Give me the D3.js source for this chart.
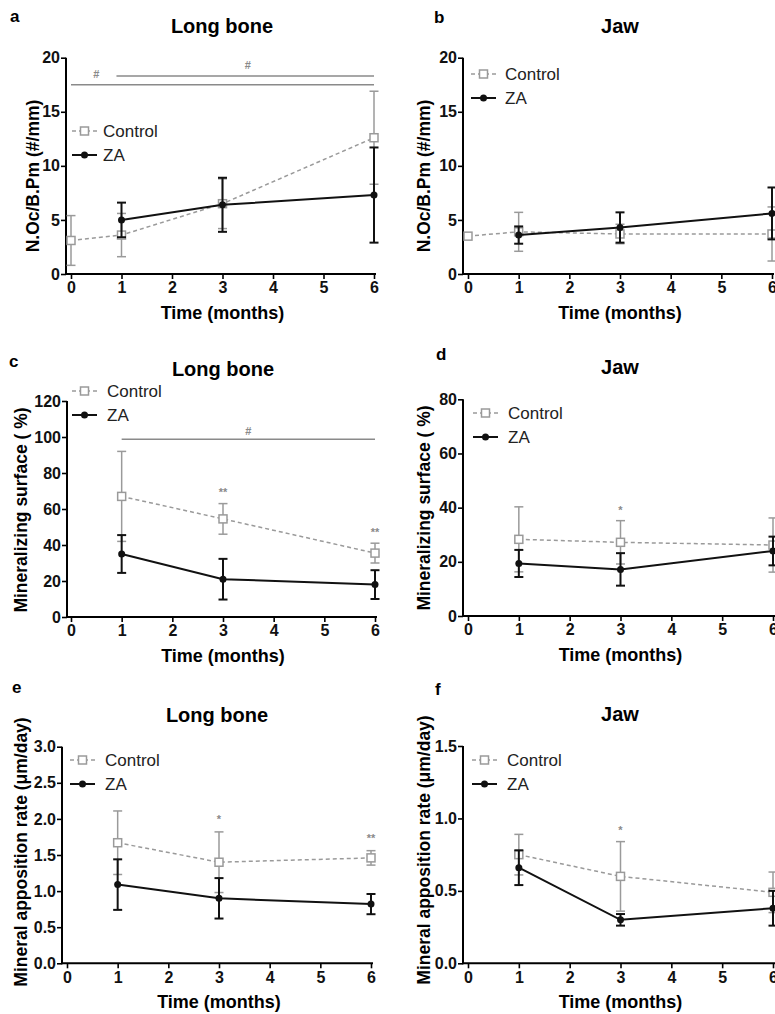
<!DOCTYPE html>
<html>
<head>
<meta charset="utf-8">
<script src="https://cdn.jsdelivr.net/npm/d3@7"></script>
<style>
  body { margin: 0; background: #fff; }
  svg { font-family: "Liberation Sans", Arial, sans-serif; }
</style>
</head>
<body>
<svg id="fig" width="775" height="1014"></svg>
<script>
// time points (months)
var xTicks = [0, 1, 2, 3, 4, 5, 6];
var ocMonths = [0, 1, 3, 6];
var zaOcMonths = [1, 3, 6];
var msMonths = [1, 3, 6];

// N.Oc/B.Pm (#/mm)
var ocLongCtrl = [3.1, 3.6, 6.5, 12.6];
var ocLongCtrlErr = [2.3, 2.0, 2.3, 4.3];
var ocLongZA = [5.0, 6.4, 7.3];
var ocLongZAErr = [1.6, 2.5, 4.4];
var ocJawCtrl = [3.5, 3.9, 3.7, 3.7];
var ocJawCtrlErr = [0, 1.8, 0.9, 2.5];
var ocJawZA = [3.6, 4.3, 5.6];
var ocJawZAErr = [0.8, 1.4, 2.4];

// Mineralizing surface (%)
var msLongCtrl = [67, 54.5, 35.5];
var msLongCtrlErr = [25, 8.5, 5.5];
var msLongZA = [35, 21, 18];
var msLongZAErr = [10.5, 11.3, 8];
var msJawCtrl = [28.3, 27.2, 26.2];
var msJawCtrlErr = [12, 8, 10];
var msJawZA = [19.4, 17.2, 24.0];
var msJawZAErr = [5, 6, 5.3];

// Mineral apposition rate (um/day)
var marLongCtrl = [1.67, 1.40, 1.46];
var marLongCtrlErr = [0.44, 0.42, 0.1];
var marLongZA = [1.09, 0.90, 0.82];
var marLongZAErr = [0.35, 0.28, 0.14];
var marJawCtrl = [0.75, 0.60, 0.49];
var marJawCtrlErr = [0.14, 0.24, 0.14];
var marJawZA = [0.66, 0.30, 0.38];
var marJawZAErr = [0.12, 0.04, 0.12];

// y ticks
var ocTicks = [0, 5, 10, 15, 20];
var msLongTicks = [0, 20, 40, 60, 80, 100, 120];
var msJawTicks = [0, 20, 40, 60, 80];
var marLongTicks = [0, 0.5, 1.0, 1.5, 2.0, 2.5, 3.0];
var marJawTicks = [0, 0.5, 1.0, 1.5];

function zip(xs, ys, es) {
    return xs.map(function (x, i) { return {x: x, y: ys[i], e: es[i]}; });
}

var ctrlColor = "#9a9a9a";
var zaColor = "#111";
var sigColor = "#8a8a8a";

var panels = [
    {letter: "a", lx1: 10, lb: 22, title: "Long bone", tx: 222, ylab: "N.Oc/B.Pm  (#/mm)", ticks: ocTicks, fmt: d3.format("d"),
     ax: 66, x0: 71, x6: 374, yTop: 57.7, yBot: 274, ytx: 33, yty: 176,
     lx: 103, ly: 131, lx0: 72,
     ctrl: zip(ocMonths, ocLongCtrl, ocLongCtrlErr), za: zip(zaOcMonths, ocLongZA, ocLongZAErr),
     lines: [{from: 0, to: 6, y: 17.5}, {from: 0.9, to: 6, y: 18.3}],
     marks: [{x: 0.5, y: 18.1, t: "#"}, {x: 3.5, y: 19.0, t: "#"}]},
    {letter: "b", lx1: 434, lb: 23, title: "Jaw", tx: 620, ylab: "N.Oc/B.Pm  (#/mm)", ticks: ocTicks, fmt: d3.format("d"),
     ax: 463, x0: 468, x6: 772, yTop: 57.7, yBot: 274, ytx: 424, yty: 176,
     lx: 505, ly: 74, lx0: 471,
     ctrl: zip(ocMonths, ocJawCtrl, ocJawCtrlErr), za: zip(zaOcMonths, ocJawZA, ocJawZAErr),
     lines: [], marks: []},
    {letter: "c", lx1: 9, lb: 367, title: "Long bone", tx: 223, ylab: "Mineralizing surface ( %)", ticks: msLongTicks, fmt: d3.format("d"),
     ax: 67, x0: 71, x6: 375, yTop: 401, yBot: 617, ytx: 21, yty: 510,
     lx: 107, ly: 391, lx0: 72,
     ctrl: zip(msMonths, msLongCtrl, msLongCtrlErr), za: zip(msMonths, msLongZA, msLongZAErr),
     lines: [{from: 1, to: 6, y: 98.7}],
     marks: [{x: 3.5, y: 101, t: "#"}, {x: 3, y: 67, t: "**"}, {x: 6, y: 45, t: "**"}]},
    {letter: "d", lx1: 436, lb: 360, title: "Jaw", tx: 620, ylab: "Mineralizing surface ( %)", ticks: msJawTicks, fmt: d3.format("d"),
     ax: 463, x0: 468, x6: 773, yTop: 399.3, yBot: 616, ytx: 424, yty: 508,
     lx: 508, ly: 413, lx0: 473,
     ctrl: zip(msMonths, msJawCtrl, msJawCtrlErr), za: zip(msMonths, msJawZA, msJawZAErr),
     lines: [], marks: [{x: 3, y: 37.5, t: "*"}]},
    {letter: "e", lx1: 12, lb: 693, title: "Long bone", tx: 217, ylab: "Mineral apposition rate  (\u03bcm/day)", ticks: marLongTicks, fmt: d3.format(".1f"),
     ax: 62, x0: 67, x6: 371, yTop: 746.7, yBot: 963.3, ytx: 21, yty: 852,
     lx: 105, ly: 760, lx0: 70,
     ctrl: zip(msMonths, marLongCtrl, marLongCtrlErr), za: zip(msMonths, marLongZA, marLongZAErr),
     lines: [], marks: [{x: 3, y: 1.95, t: "*"}, {x: 6, y: 1.68, t: "**"}]},
    {letter: "f", lx1: 435, lb: 695, title: "Jaw", tx: 620, ylab: "Mineral apposition rate  (\u03bcm/day)", ticks: marJawTicks, fmt: d3.format(".1f"),
     ax: 463, x0: 468, x6: 773, yTop: 746, yBot: 963.3, ytx: 424, yty: 850,
     lx: 507, ly: 760, lx0: 472,
     ctrl: zip(msMonths, marJawCtrl, marJawCtrlErr), za: zip(msMonths, marJawZA, marJawZAErr),
     lines: [], marks: [{x: 3, y: 0.89, t: "*"}]}
];

var svg = d3.select("#fig");

panels.forEach(function (p) {
    var yMax = p.ticks[p.ticks.length - 1];
    var x = d3.scaleLinear().domain([0, 6]).range([p.x0, p.x6]);
    var y = d3.scaleLinear().domain([0, yMax]).range([p.yBot, p.yTop]);
    var g = svg.append("g");

    // panel letter and title
    g.append("text").attr("x", p.lx1).attr("y", p.lb)
        .attr("font-size", 17).attr("font-weight", "bold").text(p.letter);
    g.append("text").attr("x", p.tx).attr("y", p.yTop - 25)
        .attr("text-anchor", "middle").attr("font-size", 20).attr("font-weight", "bold").text(p.title);

    // axes
    var xAxis = g.append("g").attr("transform", "translate(0," + p.yBot + ")")
        .call(d3.axisBottom(x).tickValues(xTicks).tickFormat(d3.format("d")).tickSize(5).tickSizeOuter(0).tickPadding(3));
    xAxis.select(".domain").remove();
    g.append("line").attr("x1", p.ax).attr("x2", p.x6 + 2).attr("y1", p.yBot).attr("y2", p.yBot)
        .attr("stroke", "#000").attr("stroke-width", 2);

    var yAxis = g.append("g").attr("transform", "translate(" + p.ax + ",0)")
        .call(d3.axisLeft(y).tickValues(p.ticks).tickFormat(p.fmt).tickSize(5).tickSizeOuter(0).tickPadding(1));
    yAxis.select(".domain").remove();
    g.append("line").attr("x1", p.ax).attr("x2", p.ax).attr("y1", p.yTop).attr("y2", p.yBot + 1)
        .attr("stroke", "#000").attr("stroke-width", 2);

    g.selectAll(".tick line").attr("stroke", "#000").attr("stroke-width", 1.6);
    g.selectAll(".tick text").attr("font-size", 16).attr("font-weight", "bold")
        .attr("font-family", "Liberation Sans, Arial, sans-serif").attr("fill", "#111");

    // axis titles
    g.append("text").attr("x", (p.x0 + p.x6) / 2).attr("y", p.yBot + 45).attr("text-anchor", "middle")
        .attr("font-size", 18).attr("font-weight", "bold").text("Time (months)");
    g.append("text").attr("transform", "translate(" + p.ytx + "," + p.yty + ") rotate(-90)")
        .attr("text-anchor", "middle").attr("dy", "0.35em")
        .attr("font-size", 17.5).attr("font-weight", "bold").text(p.ylab);

    // significance bars and marks
    p.lines.forEach(function (l) {
        g.append("line").attr("x1", x(l.from)).attr("x2", x(l.to)).attr("y1", y(l.y)).attr("y2", y(l.y))
            .attr("stroke", sigColor).attr("stroke-width", 1.5);
    });
    p.marks.forEach(function (m) {
        g.append("text").attr("x", x(m.x)).attr("y", y(m.y)).attr("text-anchor", "middle")
            .attr("font-size", 11).attr("font-weight", "bold").attr("fill", sigColor).text(m.t);
    });

    var line = d3.line().x(function (d) { return x(d.x); }).y(function (d) { return y(d.y); });

    function errorBars(data, color, w) {
        data.filter(function (d) { return d.e > 0; }).forEach(function (d) {
            var cx = x(d.x);
            g.append("line").attr("x1", cx).attr("x2", cx).attr("y1", y(d.y - d.e)).attr("y2", y(d.y + d.e))
                .attr("stroke", color).attr("stroke-width", w);
            [d.y - d.e, d.y + d.e].forEach(function (v) {
                g.append("line").attr("x1", cx - 4.5).attr("x2", cx + 4.5).attr("y1", y(v)).attr("y2", y(v))
                    .attr("stroke", color).attr("stroke-width", w);
            });
        });
    }

    // control: dashed grey, open squares
    errorBars(p.ctrl, ctrlColor, 1.5);
    g.append("path").datum(p.ctrl).attr("d", line).attr("fill", "none")
        .attr("stroke", ctrlColor).attr("stroke-width", 1.5).attr("stroke-dasharray", "4,3");
    g.selectAll(".sq").data(p.ctrl).enter().append("rect")
        .attr("x", function (d) { return x(d.x) - 4; }).attr("y", function (d) { return y(d.y) - 4; })
        .attr("width", 8).attr("height", 8).attr("fill", "#fff").attr("stroke", ctrlColor).attr("stroke-width", 1.5);

    // ZA: solid black, filled circles
    errorBars(p.za, zaColor, 2);
    g.append("path").datum(p.za).attr("d", line).attr("fill", "none")
        .attr("stroke", zaColor).attr("stroke-width", 2);
    g.selectAll(".dot").data(p.za).enter().append("circle")
        .attr("cx", function (d) { return x(d.x); }).attr("cy", function (d) { return y(d.y); })
        .attr("r", 3.5).attr("fill", zaColor);

    // legend
    var lg = g.append("g");
    lg.append("line").attr("x1", p.lx0).attr("x2", p.lx0 + 25).attr("y1", p.ly).attr("y2", p.ly)
        .attr("stroke", ctrlColor).attr("stroke-width", 1.5).attr("stroke-dasharray", "4,3");
    lg.append("rect").attr("x", p.lx0 + 8.5).attr("y", p.ly - 4).attr("width", 8).attr("height", 8)
        .attr("fill", "#fff").attr("stroke", ctrlColor).attr("stroke-width", 1.5);
    lg.append("text").attr("x", p.lx).attr("y", p.ly).attr("dy", "0.35em").attr("font-size", 17).attr("fill", "#222").text("Control");
    lg.append("line").attr("x1", p.lx0).attr("x2", p.lx0 + 25).attr("y1", p.ly + 24).attr("y2", p.ly + 24)
        .attr("stroke", zaColor).attr("stroke-width", 2);
    lg.append("circle").attr("cx", p.lx0 + 12.5).attr("cy", p.ly + 24).attr("r", 3.5).attr("fill", zaColor);
    lg.append("text").attr("x", p.lx).attr("y", p.ly + 24).attr("dy", "0.35em").attr("font-size", 17).attr("fill", "#222").text("ZA");
});
</script>
</body>
</html>
